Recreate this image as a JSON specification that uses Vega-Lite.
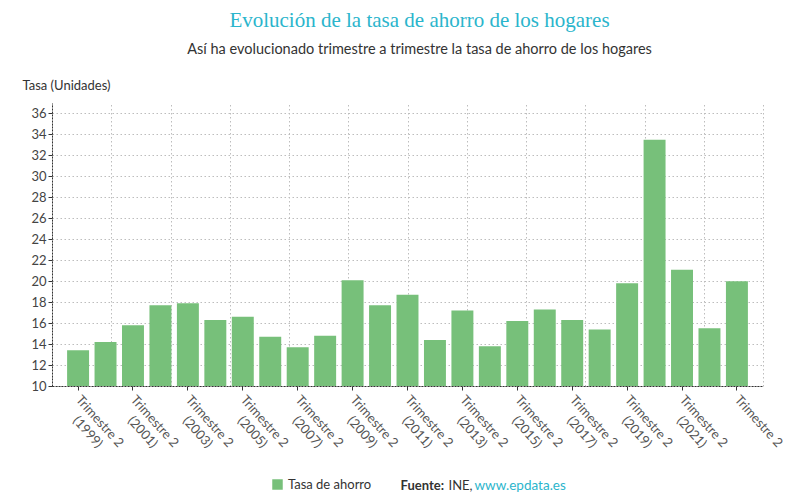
{
  "$schema": "https://vega.github.io/schema/vega-lite/v6.json",
  "width": 711,
  "height": 283,
  "autosize": {"type": "none"},
  "padding": {"left": 52, "top": 103, "right": 37, "bottom": 118},
  "background": "white",
  "title": {
    "text": "Evolución de la tasa de ahorro de los hogares",
    "subtitle": "Así ha evolucionado trimestre a trimestre la tasa de ahorro de los hogares",
    "anchor": "middle",
    "dx": 12,
    "offset": 23,
    "font": "Liberation Serif",
    "fontSize": 21,
    "fontWeight": "normal",
    "color": "#2bb5cc",
    "subtitleFont": "Lato",
    "subtitleFontSize": 14.5,
    "subtitleColor": "#333333",
    "subtitlePadding": 12
  },
  "data": {
    "values": [
      {"periodo": "Trimestre 2 (1999)", "anio": 1999, "tasa": 13.4},
      {"periodo": "Trimestre 2 (2000)", "anio": 2000, "tasa": 14.2},
      {"periodo": "Trimestre 2 (2001)", "anio": 2001, "tasa": 15.8},
      {"periodo": "Trimestre 2 (2002)", "anio": 2002, "tasa": 17.7},
      {"periodo": "Trimestre 2 (2003)", "anio": 2003, "tasa": 17.9},
      {"periodo": "Trimestre 2 (2004)", "anio": 2004, "tasa": 16.3},
      {"periodo": "Trimestre 2 (2005)", "anio": 2005, "tasa": 16.6},
      {"periodo": "Trimestre 2 (2006)", "anio": 2006, "tasa": 14.7},
      {"periodo": "Trimestre 2 (2007)", "anio": 2007, "tasa": 13.7},
      {"periodo": "Trimestre 2 (2008)", "anio": 2008, "tasa": 14.8},
      {"periodo": "Trimestre 2 (2009)", "anio": 2009, "tasa": 20.1},
      {"periodo": "Trimestre 2 (2010)", "anio": 2010, "tasa": 17.7},
      {"periodo": "Trimestre 2 (2011)", "anio": 2011, "tasa": 18.7},
      {"periodo": "Trimestre 2 (2012)", "anio": 2012, "tasa": 14.4},
      {"periodo": "Trimestre 2 (2013)", "anio": 2013, "tasa": 17.2},
      {"periodo": "Trimestre 2 (2014)", "anio": 2014, "tasa": 13.8},
      {"periodo": "Trimestre 2 (2015)", "anio": 2015, "tasa": 16.2},
      {"periodo": "Trimestre 2 (2016)", "anio": 2016, "tasa": 17.3},
      {"periodo": "Trimestre 2 (2017)", "anio": 2017, "tasa": 16.3},
      {"periodo": "Trimestre 2 (2018)", "anio": 2018, "tasa": 15.4},
      {"periodo": "Trimestre 2 (2019)", "anio": 2019, "tasa": 19.8},
      {"periodo": "Trimestre 2 (2020)", "anio": 2020, "tasa": 33.5},
      {"periodo": "Trimestre 2 (2021)", "anio": 2021, "tasa": 21.1},
      {"periodo": "Trimestre 2 (2022)", "anio": 2022, "tasa": 15.5},
      {"periodo": "Trimestre 2 (2023)", "anio": 2023, "tasa": 20.0}
    ]
  },
  "layer": [
    {
      "mark": {"type": "point", "opacity": 0},
      "data": {"values": [{"g": 0}, {"g": 1}, {"g": 2}, {"g": 3}, {"g": 4}, {"g": 5}, {"g": 6}, {"g": 7}, {"g": 8}, {"g": 9}, {"g": 10}, {"g": 11}, {"g": 12}]},
      "encoding": {
        "x": {
          "field": "g",
          "type": "quantitative",
          "scale": {"domain": [0, 12], "nice": false, "zero": false},
          "axis": {
            "orient": "bottom",
            "values": [0, 1, 2, 3, 4, 5, 6, 7, 8, 9, 10, 11, 12],
            "grid": true,
            "gridColor": "#bdbdbd",
            "gridDash": [1.5, 2.5],
            "labels": false,
            "ticks": false,
            "domain": false,
            "title": "INE,",
            "titleX": 396,
            "titleY": 99,
            "titleAlign": "left",
            "titleBaseline": "middle",
            "titleFont": "Lato",
            "titleFontSize": 13,
            "titleFontWeight": "normal",
            "titleColor": "#333333"
          }
        }
      }
    },
    {
      "mark": {"type": "bar", "clip": true},
      "encoding": {
        "x": {
          "field": "periodo",
          "type": "nominal",
          "sort": null,
          "scale": {"paddingInner": 0.2, "paddingOuter": 0.55},
          "axis": {
            "orient": "bottom",
            "values": ["Trimestre 2 (1999)", "Trimestre 2 (2001)", "Trimestre 2 (2003)", "Trimestre 2 (2005)", "Trimestre 2 (2007)", "Trimestre 2 (2009)", "Trimestre 2 (2011)", "Trimestre 2 (2013)", "Trimestre 2 (2015)", "Trimestre 2 (2017)", "Trimestre 2 (2019)", "Trimestre 2 (2021)", "Trimestre 2 (2023)"],
            "labelExpr": "datum.value == 'Trimestre 2 (2023)' ? 'Trimestre 2' : [slice(datum.value, 0, 11), slice(datum.value, 12)]",
            "labelAngle": 48,
            "labelAlign": "center",
            "labelBaseline": "top",
            "labelOffset": 26,
            "labelPadding": 27,
            "labelOverlap": false,
            "labelFont": "Lato",
            "labelFontSize": 13,
            "labelColor": "#555555",
            "labelLineHeight": 16,
            "tickSize": 4,
            "tickColor": "#333333",
            "domainColor": "#333333",
            "domainDash": [2, 1],
            "grid": false,
            "title": "Fuente:",
            "titleX": 348,
            "titleY": 99,
            "titleAlign": "left",
            "titleBaseline": "middle",
            "titleFont": "Lato",
            "titleFontSize": 13,
            "titleFontWeight": "bold",
            "titleColor": "#333333"
          }
        },
        "y": {
          "field": "tasa",
          "type": "quantitative",
          "scale": {"domain": [10, 37], "nice": false, "zero": false},
          "axis": {
            "values": [10, 12, 14, 16, 18, 20, 22, 24, 26, 28, 30, 32, 34, 36],
            "labelFont": "Lato",
            "labelFontSize": 13,
            "labelColor": "#444444",
            "tickSize": 4,
            "tickColor": "#333333",
            "domainColor": "#333333",
            "domainDash": [2, 1],
            "gridColor": "#bdbdbd",
            "gridDash": [1.5, 2.5],
            "title": "Tasa (Unidades)",
            "titleAngle": 0,
            "titleX": -30,
            "titleY": -18,
            "titleAlign": "left",
            "titleBaseline": "middle",
            "titleFont": "Lato",
            "titleFontSize": 13,
            "titleFontWeight": "normal",
            "titleColor": "#333333"
          }
        },
        "color": {
          "datum": "Tasa de ahorro",
          "type": "nominal",
          "scale": {"range": ["#77c07a"]},
          "legend": {
            "title": null,
            "orient": "none",
            "legendX": 219,
            "legendY": 375,
            "symbolType": "square",
            "symbolSize": 110,
            "symbolStrokeWidth": 0,
            "labelFont": "Lato",
            "labelFontSize": 13,
            "labelColor": "#333333"
          }
        }
      }
    },
    {
      "mark": {"type": "point", "opacity": 0},
      "encoding": {
        "x": {
          "field": "anio",
          "type": "quantitative",
          "scale": {"zero": false},
          "axis": {
            "orient": "bottom",
            "grid": false,
            "labels": false,
            "ticks": false,
            "domain": false,
            "title": "www.epdata.es",
            "titleX": 422,
            "titleY": 99,
            "titleAlign": "left",
            "titleBaseline": "middle",
            "titleFont": "Lato",
            "titleFontSize": 13.5,
            "titleFontWeight": "normal",
            "titleColor": "#2bb5cc"
          }
        }
      }
    }
  ],
  "resolve": {"scale": {"x": "independent"}},
  "config": {"view": {"stroke": null}}
}
